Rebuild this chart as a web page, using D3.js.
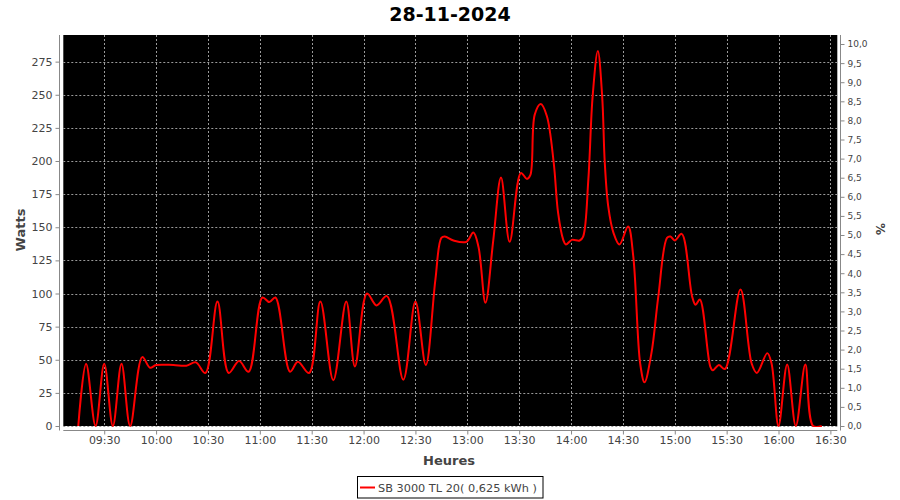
<!DOCTYPE html>
<html><head><meta charset="utf-8">
<script src="https://cdn.jsdelivr.net/npm/d3@7"></script>
<style>
html,body{margin:0;padding:0;background:#fff;}
text{font-family:"DejaVu Sans",sans-serif;}
</style></head>
<body><svg id="chart" width="900" height="500"></svg>
<script>
const title = "28-11-2024";
const seriesName = "SB 3000 TL 20( 0,625 kWh )";
const xLabel = "Heures", yLabel = "Watts", y2Label = "%";
const times = ["09:15:00","09:19:30","09:25:00","09:30:00","09:35:00","09:40:00","09:45:00","09:52:00","09:56:30","10:00:00",
"10:10:00","10:17:30","10:23:00","10:28:30","10:35:30","10:42:00","10:48:00","10:53:30","11:01:30","11:05:30",
"11:09:00","11:17:30","11:22:00","11:28:30","11:35:00","11:42:30","11:50:00","11:55:00","12:02:00","12:07:30",
"12:13:30","12:23:00","12:30:00","12:36:00","12:41:30","12:45:00","12:47:00","12:52:00","12:59:30","13:03:30",
"13:06:30","13:10:30","13:15:00","13:19:30","13:24:30","13:31:00","13:34:30","13:36:30","13:39:00","13:42:30",
"13:46:00","13:50:00","13:52:30","13:55:30","13:57:00","14:00:30","14:05:00","14:07:00","14:10:00","14:12:30",
"14:15:30","14:18:00","14:19:30","14:21:30","14:24:30","14:28:00","14:33:00","14:36:00","14:40:00","14:42:30",
"14:46:30","14:50:30","14:55:30","14:57:30","15:00:00","15:04:00","15:10:00","15:12:00","15:14:30","15:20:30",
"15:22:00","15:25:30","15:29:00","15:38:00","15:44:30","15:47:30","15:53:30","15:56:00","16:00:00","16:05:00",
"16:10:00","16:15:30","16:20:00","16:25:00"];
const watts = [0,47,0,47,0,47,0,52,44,46,
46,45.5,48,40,94,40,49,41,97,93.5,
97,41,48.5,40,94,34.5,94,45,100,91,
98,35,94,46,110,142,143,140,139,146,
135,93,140,187.5,139,191,186.5,189.5,235,243,
234,198.5,161,140.5,137,140.5,140,143,186,249,
283,249,199,166,146,137,150.5,128,47,33,
55,98,142,143,140,145,98,91.5,95.5,45,
42,46,43,103,47,40,55,47,0,46.5,
0,46.5,0,0];
const xTicks = ["09:30","10:00","10:30","11:00","11:30","12:00","12:30","13:00","13:30","14:00","14:30","15:00","15:30","16:00","16:30"];
const yTicks = [0,25,50,75,100,125,150,175,200,225,250,275];
const y2Ticks = ["0,0","0,5","1,0","1,5","2,0","2,5","3,0","3,5","4,0","4,5","5,0","5,5","6,0","6,5","7,0","7,5","8,0","8,5","9,0","9,5","10,0"];
const xRange = ["09:06:20","16:34:00"];
const yMax = 295.1, y2Max = 10.236;

const parse = d3.timeParse("%H:%M:%S");
const parseHM = d3.timeParse("%H:%M");
const data = times.map((t,i)=>({t:parse(t), v:watts[i]}));

const svg = d3.select("#chart");
const L=63.3, R=837.3, T=35, B=426;
const x = d3.scaleTime().domain(xRange.map(parse)).range([L,R]);
const y = d3.scaleLinear().domain([0,yMax]).range([B,T]);
const y2 = d3.scaleLinear().domain([0,y2Max]).range([B,T]);

// title
svg.append("text").attr("x",450).attr("y",21).attr("text-anchor","middle")
  .style("font-weight","bold").style("font-size","19px").attr("fill","#000").text(title);

// plot background
svg.append("rect").attr("x",L).attr("y",T).attr("width",R-L).attr("height",B-T).attr("fill","#000");

// grid
const grid = svg.append("g");
const gridColor = "#9a9a9a";
xTicks.forEach(s=>{
  const xx = Math.round(x(parseHM(s)))+0.5;
  grid.append("line").attr("x1",xx).attr("x2",xx).attr("y1",T).attr("y2",B)
    .attr("stroke",gridColor).attr("stroke-width",1).attr("stroke-dasharray","2,2");
});
yTicks.forEach(v=>{
  const yy = Math.round(y(v))+0.5;
  grid.append("line").attr("x1",L).attr("x2",R).attr("y1",yy).attr("y2",yy)
    .attr("stroke",gridColor).attr("stroke-width",1).attr("stroke-dasharray","2,2");
});

// clip
svg.append("clipPath").attr("id","clip").append("rect").attr("x",L).attr("y",T).attr("width",R-L).attr("height",B-T+1);

// line
const line = d3.line().x(d=>x(d.t)).y(d=>y(d.v)).curve(d3.curveCatmullRom.alpha(0.5));
svg.append("path").datum(data).attr("clip-path","url(#clip)").attr("d",line)
  .attr("fill","none").attr("stroke","#ff0000").attr("stroke-width",2).attr("stroke-linejoin","round");

// axes
const axisColor = "#888";
const labColor = "#444";
const gl = svg.append("g").attr("transform","translate(59.5,0)");
gl.call(d3.axisLeft(y).tickValues(yTicks).tickSize(4).tickPadding(3));
const gb = svg.append("g").attr("transform","translate(0,430.5)");
gb.call(d3.axisBottom(x).tickValues(xTicks.map(parseHM)).tickFormat(d3.timeFormat("%H:%M")).tickSize(4).tickPadding(2));
const gr = svg.append("g").attr("transform","translate(840.5,0)");
gr.call(d3.axisRight(y2).tickValues(y2Ticks.map(s=>+s.replace(",","."))).tickFormat((d,i)=>y2Ticks[i]).tickSize(4).tickPadding(3));

[gl,gb,gr].forEach(g=>{
  g.selectAll(".domain").attr("stroke",axisColor);
  g.selectAll(".tick line").attr("stroke",axisColor);
  g.selectAll("text").attr("fill",labColor).style("font-family","DejaVu Sans").style("font-size","11px");
});
gr.selectAll("text").style("font-size","9px");
gl.select(".domain").attr("d",`M0,${T}V${B+4.5}`);
gb.select(".domain").attr("d",`M${L},0H${R}`);
gr.select(".domain").attr("d",`M0,${T}V${B+4.5}`);

// axis labels
svg.append("text").attr("transform","translate(25,230) rotate(-90)").attr("text-anchor","middle")
  .style("font-weight","bold").style("font-size","13px").attr("fill",labColor).text(yLabel);
svg.append("text").attr("x",449).attr("y",465).attr("text-anchor","middle")
  .style("font-weight","bold").style("font-size","13px").attr("fill",labColor).text(xLabel);
svg.append("text").attr("transform","translate(876,229) rotate(90)").attr("text-anchor","middle")
  .style("font-weight","bold").style("font-size","12px").attr("fill",labColor).text(y2Label);

// legend
const lg = svg.append("g");
lg.append("rect").attr("x",357.5).attr("y",476.5).attr("width",185.5).attr("height",21.5)
  .attr("fill","#fff").attr("stroke","#000").attr("stroke-width",1);
lg.append("line").attr("x1",360).attr("x2",375).attr("y1",487.5).attr("y2",487.5)
  .attr("stroke","#ff0000").attr("stroke-width",2);
lg.append("text").attr("x",378).attr("y",491.5).style("font-size","11.3px").attr("fill",labColor).text(seriesName);
</script></body></html>
